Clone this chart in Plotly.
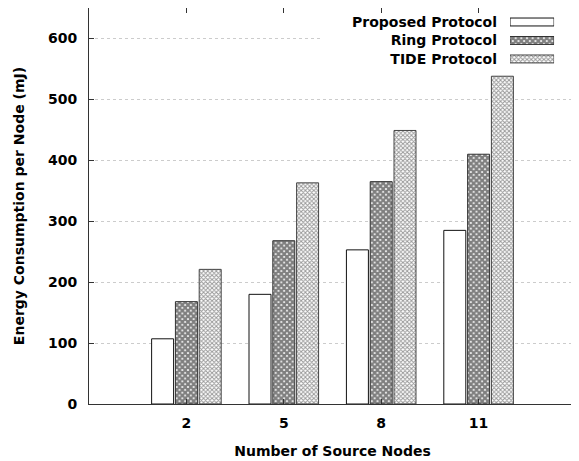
import plotly.graph_objects as go

categories = ["2", "5", "8", "11"]
series_names = ["Proposed Protocol", "Ring Protocol", "TIDE Protocol"]
proposed = [107, 180, 253, 285]
ring = [168, 268, 365, 410]
tide = [221, 363, 449, 538]
y_ticks = [0, 100, 200, 300, 400, 500, 600]

values = [proposed, ring, tide]
patterns = [
    dict(shape=""),
    dict(shape="x", size=4, solidity=0.8, fgcolor="#000000", bgcolor="white"),
    dict(shape="x", size=3, solidity=0.55, fgcolor="#333333", bgcolor="white"),
]
lines = ["#111111", "#333333", "#444444"]

FONT = dict(family="DejaVu Sans", size=14, color="black", weight="bold")

fig = go.Figure()
for name, vals, pat, lc in zip(series_names, values, patterns, lines):
    fig.add_trace(go.Bar(
        x=categories, y=vals, name=name,
        marker=dict(color="white", pattern=pat, line=dict(color=lc, width=1)),
        showlegend=False,
    ))
    # legend swatch on a small helper axis
    fig.add_trace(go.Bar(
        x=[1], y=[name], orientation="h", xaxis="x2", yaxis="y2",
        marker=dict(color="white", pattern=pat, line=dict(color=lc, width=1)),
        width=0.43, showlegend=False, hoverinfo="skip",
    ))

# the page body has an 8px margin, so the figure is sized to fit inside it
fig.update_layout(
    width=571, height=453,
    margin=dict(l=81, r=3, t=0, b=57),
    paper_bgcolor="white", plot_bgcolor="white",
    font=FONT,
    barmode="group", bargap=0.267, bargroupgap=0.076,
    xaxis=dict(
        type="category", range=[-1, 4], showgrid=False,
        ticks="inside", ticklen=5, tickcolor="#333333",
        showline=True, linecolor="#333333", linewidth=1, mirror="allticks",
        tickfont=FONT, ticklabelstandoff=6,
        title=dict(text="Number of Source Nodes", font=FONT, standoff=16),
    ),
    yaxis=dict(
        range=[0, 650], tickvals=y_ticks,
        showgrid=True, gridcolor="#cccccc", griddash="dot", gridwidth=1,
        ticks="inside", ticklen=5, tickcolor="#333333",
        showline=True, linecolor="#333333", linewidth=1, mirror="allticks",
        tickfont=FONT, ticklabelstandoff=8, zeroline=False,
        title=dict(text="Energy Consumption per Node (mJ)", font=FONT, standoff=20),
    ),
    xaxis2=dict(domain=[0.8645, 0.955], range=[0, 1], visible=False, fixedrange=True),
    yaxis2=dict(
        domain=[0.848, 0.988], anchor="x2", type="category",
        categoryorder="array", categoryarray=series_names[::-1],
        range=[-0.5, 2.5], showgrid=False, showline=False, zeroline=False,
        ticks="", tickfont=FONT, ticklabelstandoff=12,
    ),
    shapes=[dict(
        type="rect", xref="x", yref="y", x0=1.39, x1=4, y0=578, y1=650,
        fillcolor="white", line=dict(width=0), layer="between",
    )],
)

fig.write_html("out.html")
